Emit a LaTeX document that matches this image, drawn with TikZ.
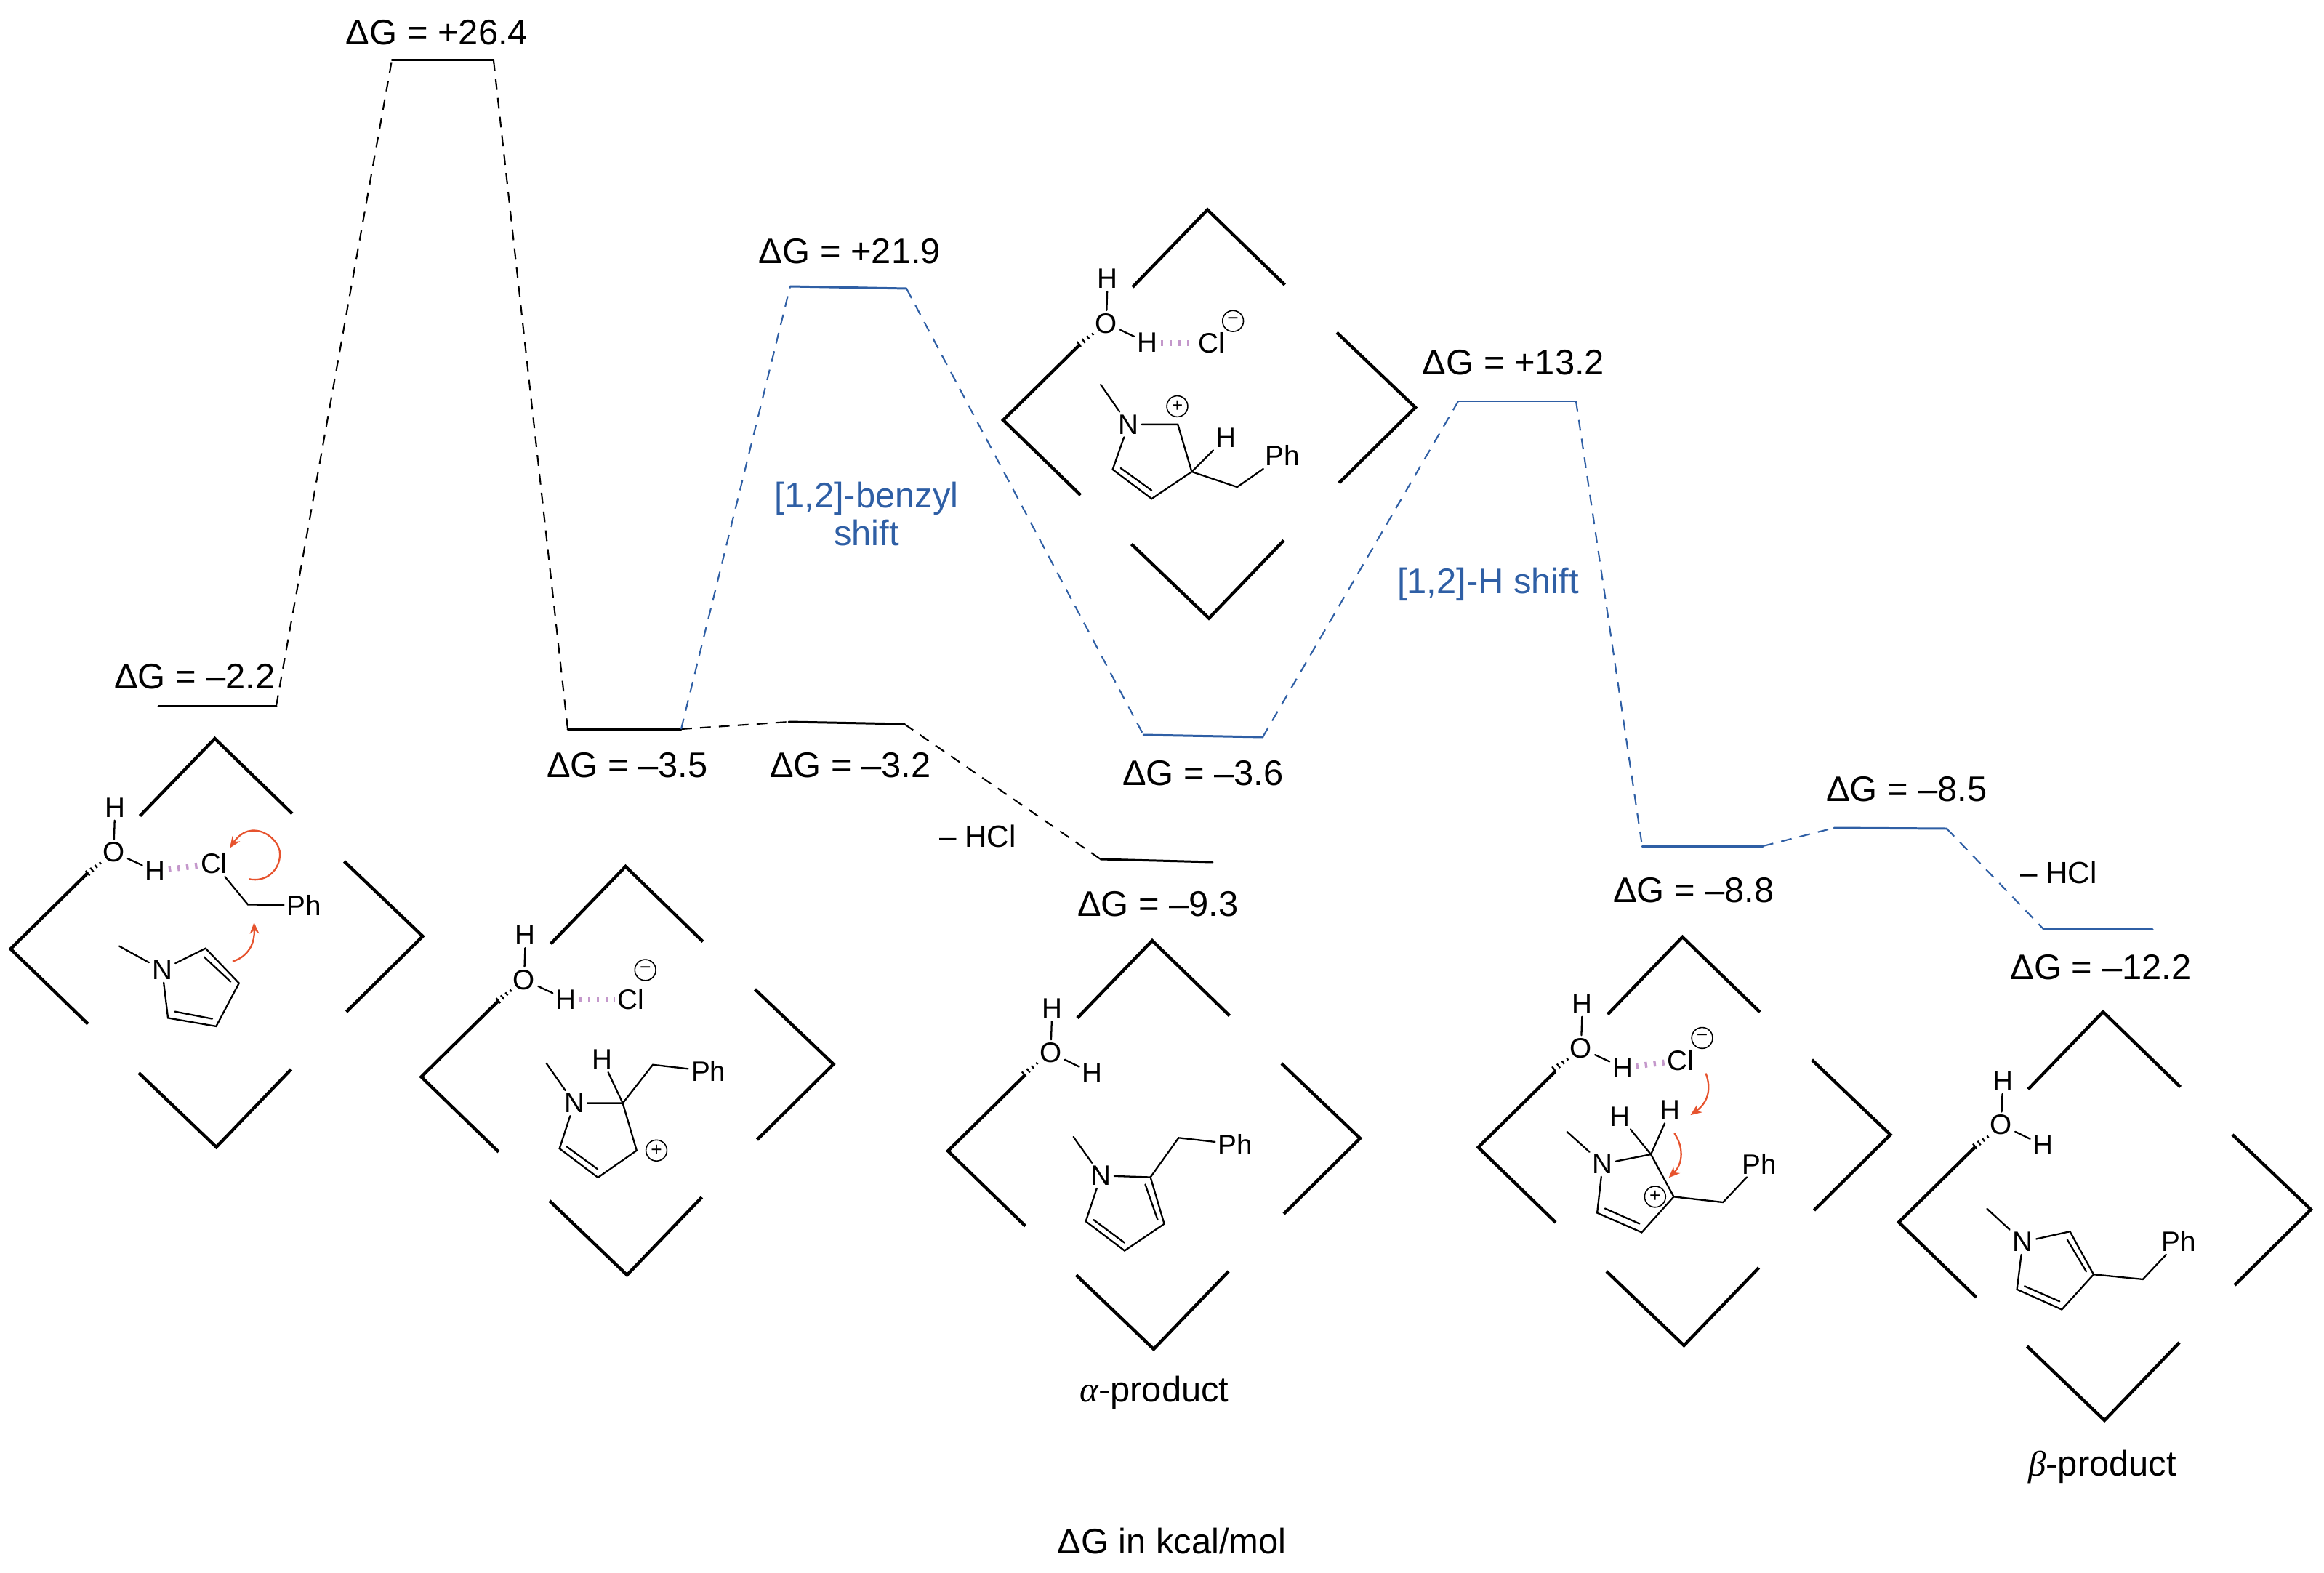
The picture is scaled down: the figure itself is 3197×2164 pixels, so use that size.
\documentclass[tikz,border=0pt]{standalone}
\usepackage{fontspec}
\setmainfont{Liberation Sans}
\newfontfamily\greekfont{Liberation Serif}
\usetikzlibrary{arrows.meta,calc}
\definecolor{pathblue}{HTML}{2F5FA5}
\definecolor{hbondpurple}{HTML}{C498CB}
\definecolor{arrowred}{HTML}{E6532E}
\tikzset{
  level/.style={line width=0.85pt,line cap=round},
  blevel/.style={level,draw=pathblue},
  link/.style={line width=0.6pt,dash pattern=on 4.2pt off 3.2pt},
  blink/.style={link,draw=pathblue},
  val/.style={inner sep=0pt,font=\fontsize{13.9}{16.5}\selectfont},
  shifttext/.style={val,text=pathblue,align=center},
  loss/.style={inner sep=0pt,font=\fontsize{12}{14}\selectfont},
  chevron/.style={line width=1.25pt,line join=miter},
  atom/.style={inner sep=1pt,font=\fontsize{11}{13}\selectfont},
  bond/.style={line width=0.65pt,line join=miter,line cap=round},
  hbond/.style={draw=hbondpurple,line width=2.3pt,dash pattern=on 0.95pt off 2.5pt},
  hashtick/.style={line width=0.65pt},
  charge/.style={circle,draw,line width=0.45pt,inner sep=0pt,minimum size=8.2pt,font=\fontsize{7.5}{8}\selectfont},
  curly/.style={draw=arrowred,line width=0.65pt,-{Stealth[length=4.4pt,width=3.6pt]}},
  zoomsq/.style={x=0.003827cm,y=-0.003827cm},
  zoomalpha/.style={x=0.003954cm,y=-0.004337cm},
  zoombeta/.style={x=0.003744cm,y=-0.004464cm}
}
\newcommand{\chevrons}[2]{%
  \begin{scope}[shift={(#1,#2)}]
    \draw[chevron] (-103,106.5) -- (0,0) -- (106.5,103.4);
    \draw[chevron] (-175,185) -- (-281,289.4) -- (-174.5,392.7);
    \draw[chevron] (178,169) -- (286,272) -- (181,376);
    \draw[chevron] (-104.5,460) -- (2,562) -- (105,455);
  \end{scope}}
\newcommand{\hashbond}[2]{%
  \foreach \t/\w in {0/1.25pt,0.3/1pt,0.6/0.75pt,0.9/0.5pt}{
    \draw[hashtick] ($(#1)!\t!(#2)!\w!90:(#2)$) -- ($(#1)!\t!(#2)!\w!-90:(#2)$);
  }}
\begin{document}
\begin{tikzpicture}[x=0.01cm,y=-0.01cm]
\useasboundingbox (0,0) rectangle (3197,2164);

% ---------- energy levels ----------
\coordinate (l1a) at (218,971);   \coordinate (l1b) at (380,971);
\coordinate (t1a) at (539,83);    \coordinate (t1b) at (679,83);
\coordinate (l2a) at (781,1003);  \coordinate (l2b) at (937,1003);
\coordinate (t2a) at (1087,394);  \coordinate (t2b) at (1247,397);
\coordinate (t4a) at (1085,993);  \coordinate (t4b) at (1244,996);
\coordinate (p1a) at (1514,1182); \coordinate (p1b) at (1668,1186);
\coordinate (l3a) at (1573,1011); \coordinate (l3b) at (1737,1014);
\coordinate (t3a) at (2006,552);  \coordinate (t3b) at (2168,552);
\coordinate (l4a) at (2259,1164); \coordinate (l4b) at (2425,1164);
\coordinate (t5a) at (2523,1139); \coordinate (t5b) at (2678,1140);
\coordinate (p2a) at (2811,1278); \coordinate (p2b) at (2961,1278);

\draw[level] (l1a) -- (l1b);
\draw[level] (t1a) -- (t1b);
\draw[level] (l2a) -- (l2b);
\draw[level] (t4a) -- (t4b);
\draw[level] (p1a) -- (p1b);
\draw[blevel] (t2a) -- (t2b);
\draw[blevel] (l3a) -- (l3b);
\draw[blevel] (t3a) -- (t3b);
\draw[blevel] (l4a) -- (l4b);
\draw[blevel] (t5a) -- (t5b);
\draw[blevel] (p2a) -- (p2b);

\draw[link] (l1b) -- (t1a);
\draw[link] (t1b) -- (l2a);
\draw[link] (l2b) -- (t4a);
\draw[link] (t4b) -- (p1a);
\draw[blink] (l2b) -- (t2a);
\draw[blink] (t2b) -- (l3a);
\draw[blink] (l3b) -- (t3a);
\draw[blink] (t3b) -- (l4a);
\draw[blink] (l4b) -- (t5a);
\draw[blink] (t5b) -- (p2a);

% ---------- labels ----------
\node[val] (v1) at (601,45) {ΔG = +26.4};
\node[val] (v2) at (268,931) {ΔG = –2.2};
\node[val] (v3) at (1169,346) {ΔG = +21.9};
\node[val] (v4) at (863,1053) {ΔG = –3.5};
\node[val] (v5) at (1170,1053) {ΔG = –3.2};
\node[val] (v6) at (2082,499) {ΔG = +13.2};
\node[val] (v7) at (1655,1064) {ΔG = –3.6};
\node[val] (v8) at (1593,1244) {ΔG = –9.3};
\node[val] (v9) at (2623,1086) {ΔG = –8.5};
\node[val] (v10) at (2330,1225) {ΔG = –8.8};
\node[val] (v11) at (2890,1331) {ΔG = –12.2};
\node[shifttext] (s1) at (1192,707) {[1,2]-benzyl\\[-1.5pt]shift};
\node[shifttext] (s2) at (2047,804) {[1,2]-H shift};
\node[loss] (h1) at (1345,1150) {– HCl};
\node[loss] (h2) at (2832,1200) {– HCl};
\node[val] (pa) at (1588,1916) {{\greekfont\itshape α}-product};
\node[val] (pb) at (2892,2018) {{\greekfont\itshape β}-product};
\node[val] (unit) at (1612,2120) {ΔG in kcal/mol};

% ---------- brackets ----------
\chevrons{295.5}{1016}
\chevrons{860.5}{1192}
\chevrons{1661}{288.5}
\chevrons{1585}{1294}
\chevrons{2314.5}{1289}
\chevrons{2893}{1392}

% ---------- complex 1 ----------
\begin{scope}[shift={(0,1000)},zoomsq]
\node[atom] (aH1) at (413,290) {H};
\node[atom] (aO) at (408,450) {O};
\node[atom] (aH2) at (558,518) {H};
\node[atom] (aCl) at (768,490) {Cl};
\node[atom] (aPh) at (1092,640) {Ph};
\node[atom] (aN) at (582,872) {N};
\coordinate (aC) at (890,638);
\coordinate (aMe) at (428,787);
\coordinate (a2) at (738,795);
\coordinate (a3) at (858,920);
\coordinate (a4) at (776,1075);
\coordinate (a5) at (603,1045);
\coordinate (aI1) at (733,826);
\coordinate (aI2) at (828,915);
\coordinate (aI3) at (628,1022);
\coordinate (aI4) at (762,1048);
\coordinate (aHs) at (315,525);
\coordinate (aHe) at (365,485);
\draw[bond] (aH1) -- (aO);
\draw[bond] (aO) -- (aH2);
\draw[hbond] (aH2) -- (aCl);
\draw[bond] (aCl) -- (aC) -- (aPh);
\draw[bond] (aMe) -- (aN);
\draw[bond] (aN) -- (a2) -- (a3) -- (a4) -- (a5) -- (aN);
\draw[bond] (aI1) -- (aI2);
\draw[bond] (aI3) -- (aI4);
\hashbond{aHs}{aHe}
\coordinate (aR1) at (893,546);
\coordinate (aR2) at (1005,457);
\coordinate (aR3) at (825,435);
\coordinate (aR4) at (835,842);
\coordinate (aR5) at (912,702);
\draw[curly] (aR1) .. controls (960,560) and (1005,510) .. (aR2) .. controls (1005,395) and (900,325) .. (aR3);
\draw[curly] (aR4) .. controls (890,825) and (915,780) .. (aR5);
\end{scope}

% ---------- complex 2 ----------
\begin{scope}[shift={(580,1190)},zoomsq]
\node[atom] (bH1) at (373,252) {H};
\node[atom] (bO) at (368,412) {O};
\node[atom] (bH2) at (518,482) {H};
\node[atom] (bCl) at (752,482) {Cl};
\node[charge] (bM) at (803,377) {−};
\node[atom] (bN) at (548,855) {N};
\node[atom] (bH3) at (648,698) {H};
\node[atom] (bPh) at (1030,740) {Ph};
\node[charge] (bP) at (843,1025) {+};
\coordinate (bMe) at (448,712);
\coordinate (b2) at (722,855);
\coordinate (bC) at (830,717);
\coordinate (b3) at (772,1025);
\coordinate (b4) at (633,1122);
\coordinate (b5) at (495,1018);
\coordinate (bI1) at (522,1012);
\coordinate (bI2) at (632,1092);
\coordinate (bHs) at (275,487);
\coordinate (bHe) at (325,447);
\draw[bond] (bH1) -- (bO);
\draw[bond] (bO) -- (bH2);
\draw[hbond] (bH2) -- (bCl);
\draw[bond] (bMe) -- (bN);
\draw[bond] (bN) -- (b2) -- (b3) -- (b4) -- (b5) -- (bN);
\draw[bond] (b2) -- (bH3);
\draw[bond] (b2) -- (bC) -- (bPh);
\draw[bond] (bI1) -- (bI2);
\hashbond{bHs}{bHe}
\end{scope}

% ---------- complex 3 ----------
\begin{scope}[shift={(1380,280)},zoomsq]
\node[atom] (cH1) at (375,270) {H};
\node[atom] (cO) at (370,430) {O};
\node[atom] (cH2) at (518,500) {H};
\node[atom] (cCl) at (748,500) {Cl};
\node[charge] (cM) at (825,422) {−};
\node[atom] (cN) at (450,793) {N};
\node[charge] (cP) at (625,728) {+};
\node[atom] (cH3) at (800,840) {H};
\node[atom] (cPh) at (1002,905) {Ph};
\coordinate (cMe) at (350,650);
\coordinate (c2) at (627,793);
\coordinate (c3) at (677,963);
\coordinate (cC) at (840,1018);
\coordinate (c4) at (533,1060);
\coordinate (c5) at (393,955);
\coordinate (cI1) at (422,950);
\coordinate (cI2) at (533,1030);
\coordinate (cHs) at (272,505);
\coordinate (cHe) at (327,465);
\draw[bond] (cH1) -- (cO);
\draw[bond] (cO) -- (cH2);
\draw[hbond] (cH2) -- (cCl);
\draw[bond] (cMe) -- (cN);
\draw[bond] (cN) -- (c2) -- (c3) -- (c4) -- (c5) -- (cN);
\draw[bond] (c3) -- (cH3);
\draw[bond] (c3) -- (cC) -- (cPh);
\draw[bond] (cI1) -- (cI2);
\hashbond{cHs}{cHe}
\end{scope}

% ---------- alpha product ----------
\begin{scope}[shift={(1290,1290)},zoomalpha]
\node[atom] (dH1) at (398,225) {H};
\node[atom] (dO) at (393,365) {O};
\node[atom] (dH2) at (538,430) {H};
\node[atom] (dN) at (568,755) {N};
\node[atom] (dPh) at (1035,655) {Ph};
\coordinate (dMe) at (472,632);
\coordinate (d2) at (740,760);
\coordinate (dC) at (838,635);
\coordinate (d3) at (788,908);
\coordinate (d4) at (650,993);
\coordinate (d5) at (515,900);
\coordinate (dI1) at (722,783);
\coordinate (dI2) at (765,895);
\coordinate (dI3) at (542,895);
\coordinate (dI4) at (650,968);
\coordinate (dHs) at (300,433);
\coordinate (dHe) at (350,395);
\draw[bond] (dH1) -- (dO);
\draw[bond] (dO) -- (dH2);
\draw[bond] (dMe) -- (dN);
\draw[bond] (dN) -- (d2) -- (d3) -- (d4) -- (d5) -- (dN);
\draw[bond] (d2) -- (dC) -- (dPh);
\draw[bond] (dI1) -- (dI2);
\draw[bond] (dI3) -- (dI4);
\hashbond{dHs}{dHe}
\end{scope}

% ---------- complex 5 ----------
\begin{scope}[shift={(2040,1290)},zoomsq]
\node[atom] (eH1) at (357,238) {H};
\node[atom] (eO) at (352,397) {O};
\node[atom] (eH2) at (502,467) {H};
\node[atom] (eCl) at (710,440) {Cl};
\node[charge] (eM) at (787,360) {−};
\node[atom] (eH3) at (492,642) {H};
\node[atom] (eH4) at (673,620) {H};
\node[atom] (eN) at (430,812) {N};
\node[atom] (ePh) at (992,812) {Ph};
\node[charge] (eP) at (618,930) {+};
\coordinate (eMe) at (302,697);
\coordinate (e2) at (603,778);
\coordinate (e3) at (685,930);
\coordinate (eC) at (862,950);
\coordinate (e4) at (570,1058);
\coordinate (e5) at (410,988);
\coordinate (eI1) at (438,972);
\coordinate (eI2) at (562,1027);
\coordinate (eHs) at (255,472);
\coordinate (eHe) at (309,432);
\draw[bond] (eH1) -- (eO);
\draw[bond] (eO) -- (eH2);
\draw[hbond] (eH2) -- (eCl);
\draw[bond] (eMe) -- (eN);
\draw[bond] (eN) -- (e2) -- (e3) -- (e4) -- (e5) -- (eN);
\draw[bond] (e2) -- (eH3);
\draw[bond] (e2) -- (eH4);
\draw[bond] (e3) -- (eC) -- (ePh);
\draw[bond] (eI1) -- (eI2);
\hashbond{eHs}{eHe}
\coordinate (eR1) at (800,487);
\coordinate (eR2) at (745,637);
\coordinate (eR3) at (687,702);
\coordinate (eR4) at (667,862);
\draw[curly] (eR1) .. controls (820,540) and (810,590) .. (eR2);
\draw[curly] (eR3) .. controls (720,750) and (720,810) .. (eR4);
\end{scope}

% ---------- beta product ----------
\begin{scope}[shift={(2610,1390)},zoombeta]
\node[atom] (fH1) at (388,218) {H};
\node[atom] (fO) at (382,352) {O};
\node[atom] (fH2) at (537,415) {H};
\node[atom] (fN) at (462,712) {N};
\node[atom] (fPh) at (1035,710) {Ph};
\coordinate (fMe) at (330,610);
\coordinate (f2) at (635,680);
\coordinate (f3) at (722,812);
\coordinate (fC) at (903,827);
\coordinate (f4) at (605,920);
\coordinate (f5) at (440,858);
\coordinate (fI1) at (625,705);
\coordinate (fI2) at (695,803);
\coordinate (fI3) at (468,848);
\coordinate (fI4) at (597,895);
\coordinate (fHs) at (285,418);
\coordinate (fHe) at (338,385);
\draw[bond] (fH1) -- (fO);
\draw[bond] (fO) -- (fH2);
\draw[bond] (fMe) -- (fN);
\draw[bond] (fN) -- (f2) -- (f3) -- (f4) -- (f5) -- (fN);
\draw[bond] (f3) -- (fC) -- (fPh);
\draw[bond] (fI1) -- (fI2);
\draw[bond] (fI3) -- (fI4);
\hashbond{fHs}{fHe}
\end{scope}
\end{tikzpicture}
\end{document}
